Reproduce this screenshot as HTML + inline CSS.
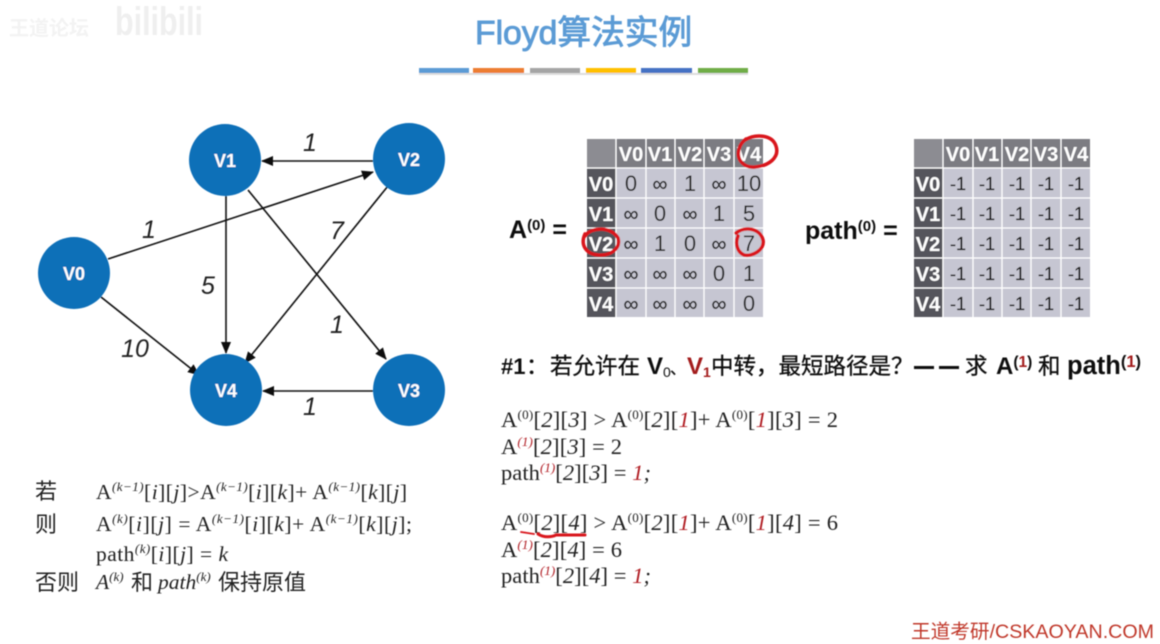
<!DOCTYPE html>
<html><head><meta charset="utf-8"><style>
html,body{margin:0;padding:0;background:#fff}
svg{display:block}
text{font-family:"Liberation Sans","Noto Sans CJK SC",sans-serif}
.s{font-family:"Liberation Serif","Noto Sans CJK SC",serif;font-size:22.5px;fill:#222}
.t{font-family:"Liberation Serif","Noto Sans CJK SC",serif;font-size:21.5px;fill:#222}
.i{font-style:italic}
.r{fill:#b01c22}
.sup{font-size:13px}
.n{fill:#fff;font-weight:bold;font-size:18px;text-anchor:middle}
.w{font-style:italic;font-size:25px;fill:#222;text-anchor:middle}
.h{fill:#fff;font-weight:bold;font-size:20px;text-anchor:middle}
.c{fill:#222;font-size:22px;text-anchor:middle}
.d{fill:#222;font-size:21px;text-anchor:middle;stroke:#222;stroke-width:.3}
.b{font-weight:bold;font-size:25px;fill:#111}
.q{font-size:22.5px;fill:#111;stroke:#111;stroke-width:.3}
.qb{font-size:24px;fill:#111;font-weight:bold}
.z{font-size:22px;fill:#222}
.m{font-size:18px;fill:#111;text-anchor:middle;stroke:#111;stroke-width:.2}
</style></head><body>
<svg width="1160" height="644" viewBox="0 0 1160 644" xmlns="http://www.w3.org/2000/svg">
<defs>
<marker id="a" markerWidth="12" markerHeight="10" refX="11" refY="5" orient="auto" markerUnits="userSpaceOnUse"><path d="M0 0L12 5L0 10z" fill="#111"/></marker>
<filter id="bl"><feGaussianBlur stdDeviation="0.55"/></filter>
</defs>
<rect width="1160" height="644" fill="#fff"/>
<g filter="url(#bl)">
<!-- watermark -->
<text x="9" y="35" font-size="20" fill="#f3f3f3" font-weight="bold">王道论坛</text>
<text x="115" y="35" font-size="40" fill="#efefef" font-weight="bold" textLength="88" lengthAdjust="spacingAndGlyphs">bilibili</text>
<!-- title -->
<text x="475" y="44" font-size="33.7" fill="#5b9bd5" stroke="#5b9bd5" stroke-width=".9">Floyd算法实例</text>
<rect x="419" y="68" width="50" height="5" fill="#5b9bd5"/>
<rect x="473" y="68" width="51" height="5" fill="#ed7d31"/>
<rect x="530" y="68" width="50" height="5" fill="#a5a5a5"/>
<rect x="586" y="68" width="50" height="5" fill="#ffc000"/>
<rect x="641" y="68" width="51" height="5" fill="#4472c4"/>
<rect x="698" y="68" width="50" height="5" fill="#70ad47"/>
<rect x="419" y="73" width="329" height="2" fill="#ddd"/>
<!-- graph -->
<g stroke="#111" stroke-width="1.6" fill="none">
<line x1="373" y1="161" x2="262" y2="161" marker-end="url(#a)"/>
<line x1="108" y1="259" x2="373" y2="172" marker-end="url(#a)"/>
<line x1="226" y1="196" x2="226" y2="353" marker-end="url(#a)"/>
<line x1="248" y1="190" x2="386" y2="359" marker-end="url(#a)"/>
<line x1="388" y1="186" x2="245" y2="363" marker-end="url(#a)"/>
<line x1="101" y1="297" x2="199" y2="375" marker-end="url(#a)"/>
<line x1="373" y1="391" x2="263" y2="391" marker-end="url(#a)"/>
</g>
<g fill="#0f6fb8">
<circle cx="225" cy="160" r="36"/>
<circle cx="409" cy="159" r="36"/>
<circle cx="74" cy="273" r="36"/>
<circle cx="226" cy="390" r="36"/>
<circle cx="409" cy="390" r="36"/>
</g>
<text x="225" y="167" class="n">V1</text>
<text x="409" y="166" class="n">V2</text>
<text x="74" y="280" class="n">V0</text>
<text x="226" y="397" class="n">V4</text>
<text x="409" y="397" class="n">V3</text>
<text x="310" y="151" class="w">1</text>
<text x="149" y="238" class="w">1</text>
<text x="208" y="294" class="w">5</text>
<text x="337" y="239" class="w">7</text>
<text x="337" y="333" class="w">1</text>
<text x="135" y="357" class="w">10</text>
<text x="310" y="415" class="w">1</text>
<!-- matrix A -->
<rect x="616" y="168" width="147" height="149" fill="#c6c6d2"/>
<rect x="587" y="139" width="176" height="29" fill="#7b7b82"/>
<rect x="587" y="139" width="29" height="29" fill="#8c8c92"/>
<rect x="587" y="168" width="29" height="149" fill="#55555b"/>
<g stroke="#fff" stroke-width="1.3">
<line x1="616" y1="139" x2="616" y2="317"/><line x1="646" y1="139" x2="646" y2="317"/><line x1="675" y1="139" x2="675" y2="317"/><line x1="704" y1="139" x2="704" y2="317"/><line x1="734" y1="139" x2="734" y2="317"/>
<line x1="587" y1="168" x2="763" y2="168"/><line x1="587" y1="198" x2="763" y2="198"/><line x1="587" y1="228" x2="763" y2="228"/><line x1="587" y1="258" x2="763" y2="258"/><line x1="587" y1="288" x2="763" y2="288"/>
</g>
<text x="631" y="161" class="h">V0</text><text x="660" y="161" class="h">V1</text><text x="690" y="161" class="h">V2</text><text x="719" y="161" class="h">V3</text><text x="749" y="161" class="h">V4</text>
<text x="601" y="191" class="h">V0</text><text x="601" y="221" class="h">V1</text><text x="601" y="251" class="h">V2</text><text x="601" y="281" class="h">V3</text><text x="601" y="311" class="h">V4</text>
<text x="631" y="191" class="c">0</text><text x="660" y="191" class="d">∞</text><text x="690" y="191" class="c">1</text><text x="719" y="191" class="d">∞</text><text x="749" y="191" class="c">10</text>
<text x="631" y="221" class="d">∞</text><text x="660" y="221" class="c">0</text><text x="690" y="221" class="d">∞</text><text x="719" y="221" class="c">1</text><text x="749" y="221" class="c">5</text>
<text x="631" y="251" class="d">∞</text><text x="660" y="251" class="c">1</text><text x="690" y="251" class="c">0</text><text x="719" y="251" class="d">∞</text><text x="749" y="251" class="c">7</text>
<text x="631" y="281" class="d">∞</text><text x="660" y="281" class="d">∞</text><text x="690" y="281" class="d">∞</text><text x="719" y="281" class="c">0</text><text x="749" y="281" class="c">1</text>
<text x="631" y="311" class="d">∞</text><text x="660" y="311" class="d">∞</text><text x="690" y="311" class="d">∞</text><text x="719" y="311" class="d">∞</text><text x="749" y="311" class="c">0</text>
<!-- matrix path -->
<rect x="943" y="168" width="147" height="149" fill="#c6c6d2"/>
<rect x="914" y="139" width="176" height="29" fill="#7b7b82"/>
<rect x="914" y="139" width="29" height="29" fill="#8c8c92"/>
<rect x="914" y="168" width="29" height="149" fill="#55555b"/>
<g stroke="#fff" stroke-width="1.3">
<line x1="943" y1="139" x2="943" y2="317"/><line x1="973" y1="139" x2="973" y2="317"/><line x1="1002" y1="139" x2="1002" y2="317"/><line x1="1031" y1="139" x2="1031" y2="317"/><line x1="1061" y1="139" x2="1061" y2="317"/>
<line x1="914" y1="168" x2="1090" y2="168"/><line x1="914" y1="198" x2="1090" y2="198"/><line x1="914" y1="228" x2="1090" y2="228"/><line x1="914" y1="258" x2="1090" y2="258"/><line x1="914" y1="288" x2="1090" y2="288"/>
</g>
<text x="958" y="161" class="h">V0</text><text x="987" y="161" class="h">V1</text><text x="1017" y="161" class="h">V2</text><text x="1046" y="161" class="h">V3</text><text x="1076" y="161" class="h">V4</text>
<text x="928" y="191" class="h">V0</text><text x="928" y="221" class="h">V1</text><text x="928" y="251" class="h">V2</text><text x="928" y="281" class="h">V3</text><text x="928" y="311" class="h">V4</text>
<text x="958" y="190" class="m">-1</text><text x="987" y="190" class="m">-1</text><text x="1017" y="190" class="m">-1</text><text x="1046" y="190" class="m">-1</text><text x="1076" y="190" class="m">-1</text>
<text x="958" y="220" class="m">-1</text><text x="987" y="220" class="m">-1</text><text x="1017" y="220" class="m">-1</text><text x="1046" y="220" class="m">-1</text><text x="1076" y="220" class="m">-1</text>
<text x="958" y="250" class="m">-1</text><text x="987" y="250" class="m">-1</text><text x="1017" y="250" class="m">-1</text><text x="1046" y="250" class="m">-1</text><text x="1076" y="250" class="m">-1</text>
<text x="958" y="280" class="m">-1</text><text x="987" y="280" class="m">-1</text><text x="1017" y="280" class="m">-1</text><text x="1046" y="280" class="m">-1</text><text x="1076" y="280" class="m">-1</text>
<text x="958" y="310" class="m">-1</text><text x="987" y="310" class="m">-1</text><text x="1017" y="310" class="m">-1</text><text x="1046" y="310" class="m">-1</text><text x="1076" y="310" class="m">-1</text>
<!-- matrix labels -->
<text x="509" y="238" class="b">A<tspan font-size="15" dy="-8">(0)</tspan><tspan dy="8"> =</tspan></text>
<text x="805" y="239" class="b">path<tspan font-size="15" dy="-8">(0)</tspan><tspan dy="8"> =</tspan></text>
<!-- question -->
<text x="501" y="374" class="qb" style="font-size:22px">#1</text>
<text x="526" y="374" class="q">：</text>
<text x="550" y="374" class="q">若允许在</text>
<text x="647" y="374" class="qb">V<tspan font-size="14" font-weight="normal" dy="3">0</tspan></text>
<text x="670" y="374" class="q" style="font-size:16px">、</text>
<text x="687" y="374" class="qb" style="fill:#a31c1c">V<tspan font-size="14" dy="3">1</tspan></text>
<text x="711" y="374" class="q">中转，最短路径是？</text>
<rect x="914" y="366" width="20" height="3" fill="#111"/>
<rect x="939" y="366" width="20" height="3" fill="#111"/>
<text x="965" y="374" class="q">求</text>
<text x="996" y="374" class="qb">A<tspan font-size="15.5" dy="-7">(</tspan><tspan font-size="15.5" style="fill:#a31c1c">1</tspan><tspan font-size="15.5">)</tspan></text>
<text x="1038" y="374" class="q">和</text>
<text x="1067" y="374" class="qb" style="font-size:25.5px">path<tspan font-size="16.5" dy="-7">(</tspan><tspan font-size="16.5" style="fill:#a31c1c">1</tspan><tspan font-size="16.5">)</tspan></text>
<!-- derivation block -->
<text x="501" y="427" class="s" textLength="337">A<tspan class="sup" dy="-8">(0)</tspan><tspan dy="8">[</tspan><tspan class="i">2</tspan>][<tspan class="i">3</tspan>] &gt; A<tspan class="sup" dy="-8">(0)</tspan><tspan dy="8">[</tspan><tspan class="i">2</tspan>][<tspan class="i r">1</tspan>]+ A<tspan class="sup" dy="-8">(0)</tspan><tspan dy="8">[</tspan><tspan class="i r">1</tspan>][<tspan class="i">3</tspan>] = 2</text>
<text x="501" y="454" class="s" textLength="121">A<tspan class="sup i r" dy="-8">(1)</tspan><tspan dy="8">[</tspan><tspan class="i">2</tspan>][<tspan class="i">3</tspan>] = 2</text>
<text x="501" y="480" class="s" textLength="150">path<tspan class="sup i r" dy="-8">(1)</tspan><tspan dy="8">[</tspan><tspan class="i">2</tspan>][<tspan class="i">3</tspan>] = <tspan class="i r">1</tspan><tspan class="i">;</tspan></text>
<text x="501" y="530" class="s" textLength="337">A<tspan class="sup" dy="-8">(0)</tspan><tspan dy="8">[</tspan><tspan class="i">2</tspan>][<tspan class="i">4</tspan>] &gt; A<tspan class="sup" dy="-8">(0)</tspan><tspan dy="8">[</tspan><tspan class="i">2</tspan>][<tspan class="i r">1</tspan>]+ A<tspan class="sup" dy="-8">(0)</tspan><tspan dy="8">[</tspan><tspan class="i r">1</tspan>][<tspan class="i">4</tspan>] = 6</text>
<text x="501" y="557" class="s" textLength="121">A<tspan class="sup i r" dy="-8">(1)</tspan><tspan dy="8">[</tspan><tspan class="i">2</tspan>][<tspan class="i">4</tspan>] = 6</text>
<text x="501" y="583" class="s" textLength="150">path<tspan class="sup i r" dy="-8">(1)</tspan><tspan dy="8">[</tspan><tspan class="i">2</tspan>][<tspan class="i">4</tspan>] = <tspan class="i r">1</tspan><tspan class="i">;</tspan></text>
<!-- rule block -->
<text x="35" y="499" class="z">若</text>
<text x="35" y="532" class="z">则</text>
<text x="35" y="590" class="z">否则</text>
<text x="96" y="499" class="t" textLength="311">A<tspan class="sup i" dy="-8">(k−1)</tspan><tspan dy="8">[</tspan><tspan class="i">i</tspan>][<tspan class="i">j</tspan>]&gt;A<tspan class="sup i" dy="-8">(k−1)</tspan><tspan dy="8">[</tspan><tspan class="i">i</tspan>][<tspan class="i">k</tspan>]+ A<tspan class="sup i" dy="-8">(k−1)</tspan><tspan dy="8">[</tspan><tspan class="i">k</tspan>][<tspan class="i">j</tspan>]</text>
<text x="96" y="531" class="t" textLength="316">A<tspan class="sup i" dy="-8">(k)</tspan><tspan dy="8">[</tspan><tspan class="i">i</tspan>][<tspan class="i">j</tspan>] = A<tspan class="sup i" dy="-8">(k−1)</tspan><tspan dy="8">[</tspan><tspan class="i">i</tspan>][<tspan class="i">k</tspan>]+ A<tspan class="sup i" dy="-8">(k−1)</tspan><tspan dy="8">[</tspan><tspan class="i">k</tspan>][<tspan class="i">j</tspan>];</text>
<text x="96" y="561" class="t" textLength="132">path<tspan class="sup i" dy="-8">(k)</tspan><tspan dy="8">[</tspan><tspan class="i">i</tspan>][<tspan class="i">j</tspan>] = <tspan class="i">k</tspan></text>
<text x="96" y="589" class="t"><tspan class="i">A</tspan><tspan class="sup i" dy="-8">(k)</tspan></text>
<text x="131" y="590" class="z">和</text>
<text x="158" y="589" class="t"><tspan class="i">path</tspan><tspan class="sup i" dy="-8">(k)</tspan></text>
<text x="218" y="590" class="z">保持原值</text>
<!-- footer -->
<text x="911" y="638" font-size="19.5" fill="#c0392b" textLength="243" lengthAdjust="spacingAndGlyphs">王道考研/CSKAOYAN.COM</text>
<!-- red annotations -->
<g fill="none" stroke="#d9141c" stroke-width="3.5" stroke-linecap="round">
<path d="M745 140C755 134 772 134 776 146C780 158 768 166 755 167C744 168 736 160 739 149C740 145 742 142 746 139"/>
<path d="M585 236C592 226 612 227 618 238C621 249 610 256 598 255C586 254 580 245 585 234"/>
<path d="M736 233C745 226 760 228 763 240C765 250 752 257 744 255C737 252 735 243 738 236"/>
<path d="M538 534C544 538 552 537 556 535L585 535" stroke-width="3"/>
<path d="M521 532L534 534" stroke-width="1.8"/>
</g>
</g>
</svg>
</body></html>
